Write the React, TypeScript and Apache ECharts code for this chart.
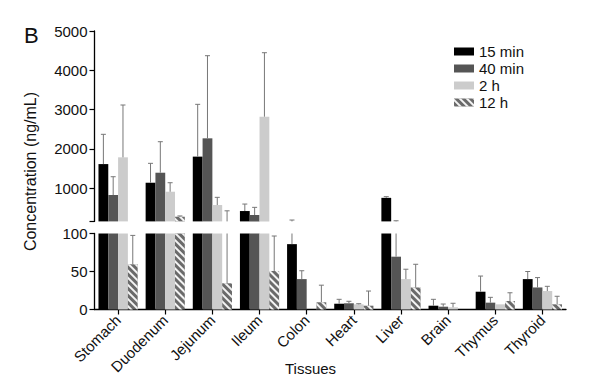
import React, { useEffect, useRef } from "react";
import * as echarts from "echarts";

const categories = ["Stomach", "Duodenum", "Jejunum", "Ileum", "Colon", "Heart", "Liver", "Brain", "Thymus", "Thyroid"];
const seriesNames = ["15 min", "40 min", "2 h", "12 h"];

const mean15 = [1610, 1135, 1800, 414, 86, 7.6, 750, 5, 23.4, 40];
const sd15 = [758, 494, 1332, 178, 99, 5.8, 30, 8.4, 20.6, 10];
const mean40 = [822, 1390, 2266, 312, 40, 8.2, 69.5, 3.7, 9, 29];
const sd40 = [466, 790, 2105, 196, 11, 2.6, 97, 3.5, 7, 13];
const mean2h = [1782, 906, 567, 2817, 0, 6.8, 40, 2.9, 6.8, 24.3];
const sd2h = [1333, 229, 196, 1630, 0, 0.8, 13, 5.3, 0, 6.2];
const mean12h = [59.5, 269, 34.5, 50.7, 9.5, 5, 29, 0, 11.2, 6.8];
const sd12h = [38, 20, 385, 46, 22.5, 19.3, 30.5, 0, 10.8, 10.6];

const upperTicks = [1000, 2000, 3000, 4000, 5000];
const lowerTicks = [0, 50, 100];

const means = [mean15, mean40, mean2h, mean12h];
const sds = [sd15, sd40, sd2h, sd12h];

const FONT = "Liberation Sans, Arial, sans-serif";
const TXT = "#111111";
const BW = 9.8;
const UPPER_MIN = 150;

const hatchDecal = {
  symbol: "rect",
  symbolSize: 1,
  color: "rgba(255,255,255,0.92)",
  dashArrayX: [1, 0],
  dashArrayY: [2, 2.8],
  rotation: Math.PI / 4,
};

const styles = [
  { color: "#000000" },
  { color: "#555555" },
  { color: "#cccccc" },
  { color: "#6a6a6a", decal: hatchDecal },
];

function errorSeries(gridIdx: number) {
  const data: number[][] = [];
  means.forEach((m, s) => {
    m.forEach((v, c) => {
      if (sds[s][c] > 0) data.push([c, v, v + sds[s][c], s]);
    });
  });
  return {
    type: "custom",
    xAxisIndex: gridIdx,
    yAxisIndex: gridIdx,
    z: 5,
    silent: true,
    encode: { x: 0, y: [1, 2] },
    data,
    renderItem: (params: any, api: any) => {
      const cs = params.coordSys;
      const yT = cs.y;
      const yB = cs.y + cs.height;
      const c = api.value(0);
      const s = api.value(3);
      const pLo = api.coord([c, api.value(1)]);
      const pHi = api.coord([c, api.value(2)]);
      const x = pLo[0] + (s - 1.5) * BW;
      const lo = Math.min(Math.max(pLo[1], yT), yB);
      const hi = Math.min(Math.max(pHi[1], yT), yB);
      const children: any[] = [];
      if (lo - hi > 0.1) {
        children.push({
          type: "line",
          shape: { x1: x, y1: lo, x2: x, y2: hi },
          style: { stroke: "#777", lineWidth: 1 },
        });
      }
      if (pHi[1] >= yT - 0.5 && pHi[1] <= yB + 0.5) {
        children.push({
          type: "line",
          shape: { x1: x - 2.5, y1: pHi[1], x2: x + 2.5, y2: pHi[1] },
          style: { stroke: "#777", lineWidth: 1 },
        });
      }
      return { type: "group", children };
    },
  };
}

export default function App() {
  const ref = useRef<HTMLDivElement>(null);
  useEffect(() => {
    if (!ref.current) return;
    const chart = echarts.init(ref.current, null, { renderer: "svg" });
    const barSeries: any[] = [];
    [0, 1].forEach((g) => {
      seriesNames.forEach((name, s) => {
        barSeries.push({
          type: "bar",
          name,
          xAxisIndex: g,
          yAxisIndex: g,
          data: means[s],
          barWidth: BW,
          barGap: "0%",
          clip: true,
          itemStyle: styles[s],
        });
      });
    });
    const axisLine = { show: true, lineStyle: { color: "#000", width: 1.3 } };
    const plain = (v: number) => String(v);
    chart.setOption({
      animation: false,
      textStyle: { fontFamily: FONT },
      legend: {
        orient: "vertical",
        left: 449,
        top: 38,
        icon: "rect",
        itemWidth: 20,
        itemHeight: 8,
        itemGap: 0,
        textStyle: { fontSize: 15, color: TXT, lineHeight: 17, fontFamily: FONT },
        data: seriesNames,
      },
      grid: [
        { left: 94.5, right: 35, top: 31, height: 190.4 },
        { left: 94.5, right: 35, top: 233.5, height: 76 },
      ],
      xAxis: [
        {
          type: "category",
          gridIndex: 0,
          data: categories,
          show: false,
        },
        {
          type: "category",
          gridIndex: 1,
          data: categories,
          axisLine,
          axisTick: { show: true, alignWithLabel: true, length: 5, lineStyle: { color: "#000", width: 1.2 } },
          axisLabel: { rotate: 45, fontSize: 15, color: TXT, margin: 8, fontFamily: FONT, interval: 0 },
        },
      ],
      yAxis: [
        {
          type: "value",
          gridIndex: 0,
          min: UPPER_MIN,
          max: 5000,
          splitLine: { show: false },
          axisLine,
          axisTick: { show: true, length: 5, customValues: [UPPER_MIN, ...upperTicks], lineStyle: { color: "#000", width: 1.2 } },
          axisLabel: { fontSize: 15, color: TXT, margin: 7, fontFamily: FONT, customValues: upperTicks, formatter: plain },
        },
        {
          type: "value",
          gridIndex: 1,
          min: 0,
          max: 100,
          splitLine: { show: false },
          axisLine,
          axisTick: { show: true, length: 5, customValues: lowerTicks, lineStyle: { color: "#000", width: 1.2 } },
          axisLabel: { fontSize: 15, color: TXT, margin: 7, fontFamily: FONT, customValues: lowerTicks, formatter: plain },
        },
      ],
      graphic: [
        { type: "text", left: 24, top: 24, style: { text: "B", fontSize: 22, fill: TXT, fontFamily: FONT } },
        {
          type: "text",
          x: 22,
          y: 171.5,
          rotation: Math.PI / 2,
          style: { text: "Concentration (ng/mL)", fontSize: 16, fill: TXT, fontFamily: FONT, align: "center", verticalAlign: "top" },
        },
        { type: "text", left: 285, top: 361, style: { text: "Tissues", fontSize: 15, fill: TXT, fontFamily: FONT } },
      ],
      series: [...barSeries, errorSeries(0), errorSeries(1)],
    });
    return () => chart.dispose();
  }, []);
  return <div ref={ref} style={{ position: "fixed", left: 0, top: 0, width: 601, height: 391, background: "#fff" }} />;
}
